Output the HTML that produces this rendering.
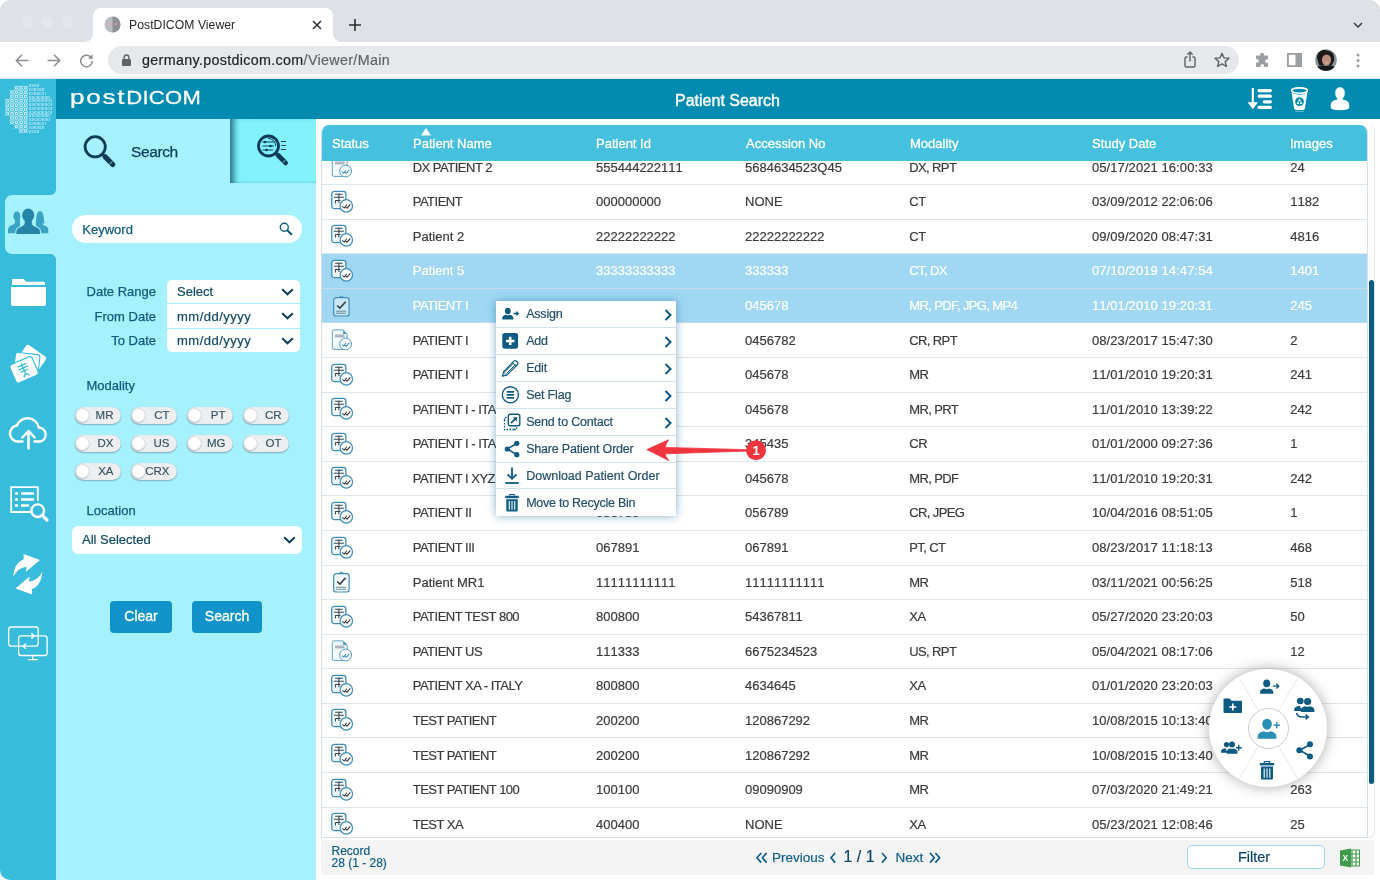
<!DOCTYPE html>
<html lang="en">
<head>
<meta charset="utf-8">
<title>PostDICOM Viewer</title>
<style>
*{box-sizing:border-box;margin:0;padding:0}
html,body{width:1380px;height:880px;overflow:hidden;background:#fff}
body{font-family:"Liberation Sans","DejaVu Sans",sans-serif;font-size:13px;color:#3b3b3b;position:relative}
.win{position:absolute;left:0;top:0;width:1380px;height:880px;border-radius:10px;overflow:hidden;background:#fff;will-change:transform}
.abs{position:absolute}
svg{display:block;overflow:visible}
/* ---------- browser chrome ---------- */
.tabbar{position:absolute;left:0;top:0;width:1380px;height:42px;background:#dee1e6}
.tl{position:absolute;top:16px;width:12px;height:12px;border-radius:50%;background:#e4e6eb}
.tab{position:absolute;left:93px;top:8px;width:240px;height:34px;background:#fff;border-radius:8px 8px 0 0}
.tab:before,.tab:after{content:"";position:absolute;bottom:0;width:8px;height:8px;background:radial-gradient(circle at 0 0,rgba(255,255,255,0) 7.5px,#fff 8px)}
.tab:before{left:-8px}
.tab:after{right:-8px;background:radial-gradient(circle at 100% 0,rgba(255,255,255,0) 7.5px,#fff 8px)}
.tabtitle{position:absolute;left:36px;top:10px;font-size:12.2px;color:#26282b;letter-spacing:.05px;white-space:nowrap}
.toolbar{position:absolute;left:0;top:42px;width:1380px;height:37px;background:#fff;border-bottom:1px solid #e3e5e8}
.url{position:absolute;left:108px;top:4px;width:1131px;height:28px;border-radius:14px;background:#e7e8eb}
.urltext{position:absolute;left:34px;top:6px;font-size:14.3px;color:#1f2124;white-space:nowrap;letter-spacing:.33px;-webkit-text-stroke:.2px #1f2124}
.urltext span{color:#5f6368;-webkit-text-stroke:.2px #5f6368}
/* ---------- app ---------- */
.leftbar{position:absolute;left:0;top:79px;width:56px;height:801px;background:#38bcdc}
.hdr{position:absolute;left:56px;top:79px;width:1324px;height:40px;background:#028bb0}
.hdr .title{position:absolute;left:0;width:1343px;top:12.5px;text-align:center;color:#fff;font-size:16px;white-space:nowrap;-webkit-text-stroke:.4px #fff}
.panel{position:absolute;left:56px;top:119px;width:260px;height:761px;background:#a6f1fe}
.advtab{position:absolute;left:174px;top:0;width:86px;height:64px;background:#82f3fd;box-shadow:inset 8px 0 6px -4px rgba(0,60,90,.7), inset 0 -1px 2px -1px rgba(6,70,100,.2)}
.navsel{position:absolute;left:5px;top:116px;width:51px;height:58.500px;background:#a6f1fe;border-radius:7px 0 0 7px}
.navsel:before,.navsel:after{content:"";position:absolute;right:0;width:5px;height:5px}
.navsel:before{top:-5px;background:radial-gradient(circle at 0 0,rgba(166,241,254,0) 4.5px,#a6f1fe 5px)}
.navsel:after{bottom:-5px;background:radial-gradient(circle at 0 100%,rgba(166,241,254,0) 4.5px,#a6f1fe 5px)}
.kw{position:absolute;left:16px;top:96px;width:230px;height:28px;border-radius:14px;background:#fff}
.lbl{color:#0f5c80;font-size:13px;white-space:nowrap;position:absolute;-webkit-text-stroke:.25px}
.sel{position:absolute;left:111px;width:133px;height:23.4px;background:#fff}
.sel .t,.loc .t{position:absolute;left:10px;top:4px;color:#0f4a68;font-size:13px;white-space:nowrap;-webkit-text-stroke:.2px}
.chev{position:absolute;right:6px;top:8px}
.loc{position:absolute;left:16px;top:407px;width:230px;height:28px;border-radius:6px;background:#fff}
.tg{position:absolute;width:46.5px;height:16.6px;border-radius:9px;background:#eceef0;box-shadow:0 1px 1.5px rgba(60,80,95,.4), inset 0 0 1px rgba(0,0,0,.18)}
.tg i{position:absolute;left:1.2px;top:1.5px;width:13.6px;height:13.6px;border-radius:50%;background:#fff;box-shadow:0 .5px 1.5px rgba(30,50,60,.45)}
.tg b{position:absolute;right:7.6px;top:2.2px;font-weight:normal;font-size:11.5px;color:#38525f;-webkit-text-stroke:.15px;white-space:nowrap}
.btn{position:absolute;top:482px;height:32px;border-radius:4px;background:#1093c9;color:#fff;font-size:14px;text-align:center;line-height:31px;white-space:nowrap;-webkit-text-stroke:.3px #fff}
/* ---------- table ---------- */
.tbl{position:absolute;left:321px;top:125px;width:1047px;height:713px;background:#fff;border-radius:8px 8px 0 0;overflow:hidden;border:1px solid #d5e0e6;border-top:none}
.th{position:absolute;left:0;top:0;width:1046px;height:35.5px;background:#45c1df;z-index:3}
.th span{position:absolute;top:10.5px;color:#fff;font-size:13px;white-space:nowrap;-webkit-text-stroke:.3px #fff}
.row{position:absolute;left:0;width:1045px;height:34.58px;border-bottom:1px solid #dde6ea;background:#fff}
.row.s{background:#a0d8f3;border-bottom-color:#c6dde9;color:#fff}
.row span{-webkit-text-stroke:.2px;position:absolute;top:9.1px;white-space:nowrap;font-size:13px;line-height:15px;transform-origin:0 50%;display:block}
.row svg{position:absolute;left:9px;top:4.6px}
.foot{-webkit-text-stroke:.2px;position:absolute;left:321px;top:839.5px;width:1053px;height:35px;background:#f4f4f5}
.scroll{position:absolute;left:1369px;top:280px;width:5px;height:504px;border-radius:3px;background:#075a80}
.scrolltrack{position:absolute;left:1367px;top:125px;width:8px;height:713px;border-right:1px solid #e4e7ea;border-bottom:1px solid #e4e7ea;border-radius:0 6px 6px 0}
/* ---------- context menu ---------- */
.menu{position:absolute;left:496px;top:301px;width:180px;height:215px;background:#fff;box-shadow:0 0 9px rgba(40,110,160,.55);z-index:10}
.mi{position:absolute;left:0;width:180px;height:27px;border-bottom:1px solid #d3e3ec}
.mi span{position:absolute;left:30.2px;top:6.4px;font-size:12.5px;letter-spacing:-.2px;color:#24506b;-webkit-text-stroke:.2px;white-space:nowrap}
.mi svg.ic{position:absolute;left:5.4px;top:3.3px}
.mi svg.ar{position:absolute;left:167.500px;top:8px}
/* ---------- radial ---------- */
.radial{position:absolute;left:1207.5px;top:667.7px;width:121px;height:121px;z-index:12}
.radial .disc{position:absolute;left:1.5px;top:1.5px;width:118px;height:118px;border-radius:50%;background:#fff;box-shadow:0 0 13px 1.5px rgba(0,0,0,.27)}
.radial .c{position:absolute;left:40px;top:40px;width:41px;height:41px;border-radius:50%;background:#fff;border:1px solid #c9cdd0}
</style>
</head>

<body><div class="win">

<div class="tabbar">
  <div class="tl" style="left:21px"></div><div class="tl" style="left:41px"></div><div class="tl" style="left:61px"></div>
  <div class="tab">
    <svg class="abs" style="left:11px;top:8px" width="17" height="17" viewBox="0 0 17 17"><circle cx="8.5" cy="8.5" r="8" fill="#b9bcc0"/><path d="M8.5 .5a8 8 0 0 1 0 16Z" fill="#8d9196"/><circle cx="5.5" cy="8" r="1.3" fill="#e9a9a0"/><circle cx="11.5" cy="8" r="1.3" fill="#e0978c"/></svg>
    <div class="tabtitle">PostDICOM Viewer</div>
    <svg class="abs" style="left:219px;top:12px" width="10" height="10" viewBox="0 0 10 10"><path d="M1 1L9 9M9 1L1 9" stroke="#2c2e31" stroke-width="1.5" fill="none"/></svg>
  </div>
  <svg class="abs" style="left:349px;top:19px" width="12" height="12" viewBox="0 0 12 12"><path d="M6 0V12M0 6H12" stroke="#2c2e31" stroke-width="1.6" fill="none"/></svg>
  <svg class="abs" style="left:1353px;top:22px" width="10" height="7" viewBox="0 0 10 7"><path d="M1 1L5 5L9 1" stroke="#3a3c40" stroke-width="1.5" fill="none"/></svg>
</div>
<div class="toolbar">
  <div class="url">
    <svg class="abs" style="left:14px;top:8px" width="9" height="12" viewBox="0 0 9 12"><rect x="0" y="5" width="9" height="7" rx="1" fill="#5f6368"/><path d="M2.2 5.5V3.3a2.3 2.3 0 0 1 4.6 0V5.5" stroke="#5f6368" stroke-width="1.4" fill="none"/></svg>
    <div class="urltext">germany.postdicom.com<span>/Viewer/Main</span></div>
  </div>
<svg class="abs" style="left:15px;top:12px" width="14" height="13" viewBox="0 0 14 13"><path d="M7 .8L1.3 6.5L7 12.2M1.3 6.5H13.5" stroke="#8a8d91" stroke-width="1.5" fill="none"/></svg>
<svg class="abs" style="left:47px;top:12px" width="14" height="13" viewBox="0 0 14 13"><path d="M7 .8L12.7 6.5L7 12.2M12.7 6.5H.5" stroke="#8a8d91" stroke-width="1.5" fill="none"/></svg>
<svg class="abs" style="left:79px;top:11px" width="15" height="15" viewBox="0 0 15 15"><path d="M12.6 5.2A5.8 5.8 0 1 0 13.3 8" stroke="#8a8d91" stroke-width="1.5" fill="none"/><path d="M13.6 1.2V5.8H9Z" fill="#8a8d91"/></svg>
<svg class="abs" style="left:1184px;top:9px" width="12" height="17" viewBox="0 0 12 17"><path d="M3.5 6H2.2A1.2 1.2 0 0 0 1 7.2V14.8A1.2 1.2 0 0 0 2.2 16H9.8A1.2 1.2 0 0 0 11 14.8V7.2A1.2 1.2 0 0 0 9.8 6H8.5M6 10.5V1.2M3.3 3.8L6 1.1L8.7 3.8" stroke="#5f6368" stroke-width="1.4" fill="none"/></svg>
<svg class="abs" style="left:1214px;top:10px" width="16" height="16" viewBox="0 0 16 16"><path d="M8 1.3L10 5.9L15 6.3L11.2 9.6L12.4 14.5L8 11.9L3.6 14.5L4.8 9.6L1 6.3L6 5.9Z" stroke="#5f6368" stroke-width="1.4" fill="none" stroke-linejoin="round"/></svg>
<svg class="abs" style="left:1254px;top:10px" width="16" height="16" viewBox="0 0 16 16"><path d="M6.2 2.6a1.9 1.9 0 0 1 3.8 0V3.6H13.2A.8.8 0 0 1 14 4.4V7.2H13a1.9 1.9 0 0 0 0 3.8H14V14.2A.8.8 0 0 1 13.2 15H10.2V14a1.9 1.9 0 0 0-3.8 0V15H2.8A.8.8 0 0 1 2 14.2V10.8H2.8a1.9 1.9 0 0 0 0-3.8H2V4.4A.8.8 0 0 1 2.8 3.6H6.2Z" fill="#9a9da1"/></svg>
<svg class="abs" style="left:1287px;top:11px" width="15" height="14" viewBox="0 0 15 14"><rect x=".9" y=".9" width="13.2" height="12.2" stroke="#9a9da1" stroke-width="1.8" fill="none"/><rect x="8.5" y="1" width="5.5" height="12" fill="#9a9da1"/></svg>
<svg class="abs" style="left:1315px;top:7px" width="22" height="22" viewBox="0 0 22 22"><defs><clipPath id="av"><circle cx="11" cy="11" r="10.8"/></clipPath></defs><g clip-path="url(#av)"><rect width="22" height="22" fill="#8a969b"/><path d="M2 9C2 2 8 0 12 1.5C18 2 20 7 19 12L17 16H4Z" fill="#1d1a1a"/><ellipse cx="11.5" cy="11" rx="4.6" ry="5.6" fill="#b98f7c"/><path d="M-1 23C1 16 7 15.5 11 17C15 15.5 21 16 23 23Z" fill="#16181b"/><path d="M8.5 13.3Q11.5 15.6 14.3 13.3Q11.5 14.4 8.5 13.3Z" fill="#f2e6e0"/></g></svg>
<svg class="abs" style="left:1356px;top:11px" width="4" height="15" viewBox="0 0 4 15"><circle cx="2" cy="2" r="1.5" fill="#9a9da1"/><circle cx="2" cy="7.5" r="1.5" fill="#9a9da1"/><circle cx="2" cy="13" r="1.5" fill="#9a9da1"/></svg>

</div>

<div class="leftbar"><svg class="abs" style="left:0;top:0" width="56" height="60" viewBox="0 0 56 60"><path d="M23.40 6.75L28.00 11.05M23.40 11.05L28.00 6.75" stroke="#fff" stroke-width=".7" opacity=".7"/><rect x="24.45" y="7.65" width="2.400" height="2.400" rx=".7" fill="#38bcdc" stroke="#fff" stroke-width=".8"/><path d="M18.82 6.75L23.42 11.05M18.82 11.05L23.42 6.75" stroke="#fff" stroke-width=".7" opacity=".7"/><rect x="19.87" y="7.65" width="2.400" height="2.400" rx=".7" fill="#38bcdc" stroke="#fff" stroke-width=".8"/><path d="M14.24 6.75L18.84 11.05M14.24 11.05L18.84 6.75" stroke="#fff" stroke-width=".7" opacity=".7"/><rect x="15.29" y="7.65" width="2.400" height="2.400" rx=".7" fill="#38bcdc" stroke="#fff" stroke-width=".8"/><path d="M23.40 11.05L28.00 15.35M23.40 15.35L28.00 11.05" stroke="#fff" stroke-width=".7" opacity=".7"/><rect x="24.45" y="11.95" width="2.400" height="2.400" rx=".7" fill="#38bcdc" stroke="#fff" stroke-width=".8"/><path d="M18.82 11.05L23.42 15.35M18.82 15.35L23.42 11.05" stroke="#fff" stroke-width=".7" opacity=".7"/><rect x="19.87" y="11.95" width="2.400" height="2.400" rx=".7" fill="#38bcdc" stroke="#fff" stroke-width=".8"/><path d="M14.24 11.05L18.84 15.35M14.24 15.35L18.84 11.05" stroke="#fff" stroke-width=".7" opacity=".7"/><rect x="15.29" y="11.95" width="2.400" height="2.400" rx=".7" fill="#38bcdc" stroke="#fff" stroke-width=".8"/><path d="M9.66 11.05L14.26 15.35M9.66 15.35L14.26 11.05" stroke="#fff" stroke-width=".7" opacity=".7"/><rect x="10.71" y="11.95" width="2.400" height="2.400" rx=".7" fill="#38bcdc" stroke="#fff" stroke-width=".8"/><path d="M23.40 15.35L28.00 19.65M23.40 19.65L28.00 15.35" stroke="#fff" stroke-width=".7" opacity=".7"/><rect x="24.45" y="16.25" width="2.400" height="2.400" rx=".7" fill="#38bcdc" stroke="#fff" stroke-width=".8"/><path d="M18.82 15.35L23.42 19.65M18.82 19.65L23.42 15.35" stroke="#fff" stroke-width=".7" opacity=".7"/><rect x="19.87" y="16.25" width="2.400" height="2.400" rx=".7" fill="#38bcdc" stroke="#fff" stroke-width=".8"/><path d="M14.24 15.35L18.84 19.65M14.24 19.65L18.84 15.35" stroke="#fff" stroke-width=".7" opacity=".7"/><rect x="15.29" y="16.25" width="2.400" height="2.400" rx=".7" fill="#38bcdc" stroke="#fff" stroke-width=".8"/><path d="M9.66 15.35L14.26 19.65M9.66 19.65L14.26 15.35" stroke="#fff" stroke-width=".7" opacity=".7"/><rect x="10.71" y="16.25" width="2.400" height="2.400" rx=".7" fill="#38bcdc" stroke="#fff" stroke-width=".8"/><path d="M23.40 19.65L28.00 23.95M23.40 23.95L28.00 19.65" stroke="#fff" stroke-width=".7" opacity=".7"/><rect x="24.45" y="20.55" width="2.400" height="2.400" rx=".7" fill="#38bcdc" stroke="#fff" stroke-width=".8"/><path d="M18.82 19.65L23.42 23.95M18.82 23.95L23.42 19.65" stroke="#fff" stroke-width=".7" opacity=".7"/><rect x="19.87" y="20.55" width="2.400" height="2.400" rx=".7" fill="#38bcdc" stroke="#fff" stroke-width=".8"/><path d="M14.24 19.65L18.84 23.95M14.24 23.95L18.84 19.65" stroke="#fff" stroke-width=".7" opacity=".7"/><rect x="15.29" y="20.55" width="2.400" height="2.400" rx=".7" fill="#38bcdc" stroke="#fff" stroke-width=".8"/><path d="M9.66 19.65L14.26 23.95M9.66 23.95L14.26 19.65" stroke="#fff" stroke-width=".7" opacity=".7"/><rect x="10.71" y="20.55" width="2.400" height="2.400" rx=".7" fill="#38bcdc" stroke="#fff" stroke-width=".8"/><path d="M5.08 19.65L9.68 23.95M5.08 23.95L9.68 19.65" stroke="#fff" stroke-width=".7" opacity=".7"/><rect x="6.13" y="20.55" width="2.400" height="2.400" rx=".7" fill="#38bcdc" stroke="#fff" stroke-width=".8"/><path d="M23.40 23.95L28.00 28.25M23.40 28.25L28.00 23.95" stroke="#fff" stroke-width=".7" opacity=".7"/><rect x="24.45" y="24.85" width="2.400" height="2.400" rx=".7" fill="#38bcdc" stroke="#fff" stroke-width=".8"/><path d="M18.82 23.95L23.42 28.25M18.82 28.25L23.42 23.95" stroke="#fff" stroke-width=".7" opacity=".7"/><rect x="19.87" y="24.85" width="2.400" height="2.400" rx=".7" fill="#38bcdc" stroke="#fff" stroke-width=".8"/><path d="M14.24 23.95L18.84 28.25M14.24 28.25L18.84 23.95" stroke="#fff" stroke-width=".7" opacity=".7"/><rect x="15.29" y="24.85" width="2.400" height="2.400" rx=".7" fill="#38bcdc" stroke="#fff" stroke-width=".8"/><path d="M9.66 23.95L14.26 28.25M9.66 28.25L14.26 23.95" stroke="#fff" stroke-width=".7" opacity=".7"/><rect x="10.71" y="24.85" width="2.400" height="2.400" rx=".7" fill="#38bcdc" stroke="#fff" stroke-width=".8"/><path d="M5.08 23.95L9.68 28.25M5.08 28.25L9.68 23.95" stroke="#fff" stroke-width=".7" opacity=".7"/><rect x="6.13" y="24.85" width="2.400" height="2.400" rx=".7" fill="#38bcdc" stroke="#fff" stroke-width=".8"/><path d="M23.40 28.25L28.00 32.55M23.40 32.55L28.00 28.25" stroke="#fff" stroke-width=".7" opacity=".7"/><rect x="24.45" y="29.15" width="2.400" height="2.400" rx=".7" fill="#38bcdc" stroke="#fff" stroke-width=".8"/><path d="M18.82 28.25L23.42 32.55M18.82 32.55L23.42 28.25" stroke="#fff" stroke-width=".7" opacity=".7"/><rect x="19.87" y="29.15" width="2.400" height="2.400" rx=".7" fill="#38bcdc" stroke="#fff" stroke-width=".8"/><path d="M14.24 28.25L18.84 32.55M14.24 32.55L18.84 28.25" stroke="#fff" stroke-width=".7" opacity=".7"/><rect x="15.29" y="29.15" width="2.400" height="2.400" rx=".7" fill="#38bcdc" stroke="#fff" stroke-width=".8"/><path d="M9.66 28.25L14.26 32.55M9.66 32.55L14.26 28.25" stroke="#fff" stroke-width=".7" opacity=".7"/><rect x="10.71" y="29.15" width="2.400" height="2.400" rx=".7" fill="#38bcdc" stroke="#fff" stroke-width=".8"/><path d="M5.08 28.25L9.68 32.55M5.08 32.55L9.68 28.25" stroke="#fff" stroke-width=".7" opacity=".7"/><rect x="6.13" y="29.15" width="2.400" height="2.400" rx=".7" fill="#38bcdc" stroke="#fff" stroke-width=".8"/><path d="M23.40 32.55L28.00 36.85M23.40 36.85L28.00 32.55" stroke="#fff" stroke-width=".7" opacity=".7"/><rect x="24.45" y="33.45" width="2.400" height="2.400" rx=".7" fill="#38bcdc" stroke="#fff" stroke-width=".8"/><path d="M18.82 32.55L23.42 36.85M18.82 36.85L23.42 32.55" stroke="#fff" stroke-width=".7" opacity=".7"/><rect x="19.87" y="33.45" width="2.400" height="2.400" rx=".7" fill="#38bcdc" stroke="#fff" stroke-width=".8"/><path d="M14.24 32.55L18.84 36.85M14.24 36.85L18.84 32.55" stroke="#fff" stroke-width=".7" opacity=".7"/><rect x="15.29" y="33.45" width="2.400" height="2.400" rx=".7" fill="#38bcdc" stroke="#fff" stroke-width=".8"/><path d="M9.66 32.55L14.26 36.85M9.66 36.85L14.26 32.55" stroke="#fff" stroke-width=".7" opacity=".7"/><rect x="10.71" y="33.45" width="2.400" height="2.400" rx=".7" fill="#38bcdc" stroke="#fff" stroke-width=".8"/><path d="M5.08 32.55L9.68 36.85M5.08 36.85L9.68 32.55" stroke="#fff" stroke-width=".7" opacity=".7"/><rect x="6.13" y="33.45" width="2.400" height="2.400" rx=".7" fill="#38bcdc" stroke="#fff" stroke-width=".8"/><path d="M23.40 36.85L28.00 41.15M23.40 41.15L28.00 36.85" stroke="#fff" stroke-width=".7" opacity=".7"/><rect x="24.45" y="37.75" width="2.400" height="2.400" rx=".7" fill="#38bcdc" stroke="#fff" stroke-width=".8"/><path d="M18.82 36.85L23.42 41.15M18.82 41.15L23.42 36.85" stroke="#fff" stroke-width=".7" opacity=".7"/><rect x="19.87" y="37.75" width="2.400" height="2.400" rx=".7" fill="#38bcdc" stroke="#fff" stroke-width=".8"/><path d="M14.24 36.85L18.84 41.15M14.24 41.15L18.84 36.85" stroke="#fff" stroke-width=".7" opacity=".7"/><rect x="15.29" y="37.75" width="2.400" height="2.400" rx=".7" fill="#38bcdc" stroke="#fff" stroke-width=".8"/><path d="M9.66 36.85L14.26 41.15M9.66 41.15L14.26 36.85" stroke="#fff" stroke-width=".7" opacity=".7"/><rect x="10.71" y="37.75" width="2.400" height="2.400" rx=".7" fill="#38bcdc" stroke="#fff" stroke-width=".8"/><path d="M23.40 41.15L28.00 45.45M23.40 45.45L28.00 41.15" stroke="#fff" stroke-width=".7" opacity=".7"/><rect x="24.45" y="42.05" width="2.400" height="2.400" rx=".7" fill="#38bcdc" stroke="#fff" stroke-width=".8"/><path d="M18.82 41.15L23.42 45.45M18.82 45.45L23.42 41.15" stroke="#fff" stroke-width=".7" opacity=".7"/><rect x="19.87" y="42.05" width="2.400" height="2.400" rx=".7" fill="#38bcdc" stroke="#fff" stroke-width=".8"/><path d="M14.24 41.15L18.84 45.45M14.24 45.45L18.84 41.15" stroke="#fff" stroke-width=".7" opacity=".7"/><rect x="15.29" y="42.05" width="2.400" height="2.400" rx=".7" fill="#38bcdc" stroke="#fff" stroke-width=".8"/><path d="M9.66 41.15L14.26 45.45M9.66 45.45L14.26 41.15" stroke="#fff" stroke-width=".7" opacity=".7"/><rect x="10.71" y="42.05" width="2.400" height="2.400" rx=".7" fill="#38bcdc" stroke="#fff" stroke-width=".8"/><path d="M23.40 45.45L28.00 49.75M23.40 49.75L28.00 45.45" stroke="#fff" stroke-width=".7" opacity=".7"/><rect x="24.45" y="46.35" width="2.400" height="2.400" rx=".7" fill="#38bcdc" stroke="#fff" stroke-width=".8"/><path d="M18.82 45.45L23.42 49.75M18.82 49.75L23.42 45.45" stroke="#fff" stroke-width=".7" opacity=".7"/><rect x="19.87" y="46.35" width="2.400" height="2.400" rx=".7" fill="#38bcdc" stroke="#fff" stroke-width=".8"/><path d="M14.24 45.45L18.84 49.75M14.24 49.75L18.84 45.45" stroke="#fff" stroke-width=".7" opacity=".7"/><rect x="15.29" y="46.35" width="2.400" height="2.400" rx=".7" fill="#38bcdc" stroke="#fff" stroke-width=".8"/><path d="M23.40 49.75L28.00 54.05M23.40 54.05L28.00 49.75" stroke="#fff" stroke-width=".7" opacity=".7"/><rect x="24.45" y="50.65" width="2.400" height="2.400" rx=".7" fill="#38bcdc" stroke="#fff" stroke-width=".8"/><path d="M18.82 49.75L23.42 54.05M18.82 54.05L23.42 49.75" stroke="#fff" stroke-width=".7" opacity=".7"/><rect x="19.87" y="50.65" width="2.400" height="2.400" rx=".7" fill="#38bcdc" stroke="#fff" stroke-width=".8"/><text x="29.200" y="8.25" font-family="Liberation Sans, sans-serif" font-size="3.500" fill="#fff" opacity=".95" textLength="9.8" lengthAdjust="spacingAndGlyphs">IOIOI</text><text x="29.200" y="12.03" font-family="Liberation Sans, sans-serif" font-size="3.500" fill="#fff" opacity=".95" textLength="15.2" lengthAdjust="spacingAndGlyphs">IOIOIOI</text><text x="29.200" y="15.81" font-family="Liberation Sans, sans-serif" font-size="3.500" fill="#fff" opacity=".95" textLength="16.9" lengthAdjust="spacingAndGlyphs">IOIOIOI I</text><text x="29.200" y="19.59" font-family="Liberation Sans, sans-serif" font-size="3.500" fill="#fff" opacity=".95" textLength="20.8" lengthAdjust="spacingAndGlyphs">IOIOIOIOIO</text><text x="29.200" y="23.37" font-family="Liberation Sans, sans-serif" font-size="3.500" fill="#fff" opacity=".95" textLength="22.6" lengthAdjust="spacingAndGlyphs">IOIOIOIOIOI</text><text x="29.200" y="27.15" font-family="Liberation Sans, sans-serif" font-size="3.500" fill="#fff" opacity=".95" textLength="22.6" lengthAdjust="spacingAndGlyphs">IOIOIOIOIOI</text><text x="29.200" y="30.93" font-family="Liberation Sans, sans-serif" font-size="3.500" fill="#fff" opacity=".95" textLength="22.6" lengthAdjust="spacingAndGlyphs">IOIOIOIOIOI</text><text x="29.200" y="34.71" font-family="Liberation Sans, sans-serif" font-size="3.500" fill="#fff" opacity=".95" textLength="22.6" lengthAdjust="spacingAndGlyphs">IOIOIOIOIOI</text><text x="29.200" y="38.49" font-family="Liberation Sans, sans-serif" font-size="3.500" fill="#fff" opacity=".95" textLength="20.8" lengthAdjust="spacingAndGlyphs">IOIOIOIOIO</text><text x="29.200" y="42.27" font-family="Liberation Sans, sans-serif" font-size="3.500" fill="#fff" opacity=".95" textLength="20.8" lengthAdjust="spacingAndGlyphs">IOIOIOIOIO</text><text x="29.200" y="46.05" font-family="Liberation Sans, sans-serif" font-size="3.500" fill="#fff" opacity=".95" textLength="16.9" lengthAdjust="spacingAndGlyphs">IOIOIOI I</text><text x="29.200" y="49.83" font-family="Liberation Sans, sans-serif" font-size="3.500" fill="#fff" opacity=".95" textLength="15.2" lengthAdjust="spacingAndGlyphs">IOIOIOI</text><text x="29.200" y="53.61" font-family="Liberation Sans, sans-serif" font-size="3.500" fill="#fff" opacity=".95" textLength="9.8" lengthAdjust="spacingAndGlyphs">IOIOI</text></svg>
<div class="navsel"></div>
<svg class="abs" style="left:0;top:121px" width="56" height="40" viewBox="0 200 56 40">
 <g fill="#38a3c4"><ellipse cx="16.900" cy="216.300" rx="3.500" ry="4.900"/><path d="M15 219.500V222.500C15 224 13 224.800 11 225.600C9 226.500 8 228 8 230.500V233.200H20V219.500Z"/>
 <path d="M35.600 223.500C36.600 219 35.800 211.200 40 211.200C44.200 211.200 43.400 219 44.600 223.500Z"/><path d="M41.500 222C41.500 224 43 225 45 225.800C47.500 226.800 48.300 228 48.300 230.500V233.200H36V222Z"/></g>
 <g fill="#2585a8" stroke="#a6f1fe" stroke-width="1.100"><path d="M24.300 219.500V223C24.300 225 22 226 19.500 227C17 228 15.800 229.500 15.800 232V234.500H40.600V232C40.600 229.500 39.400 228 36.900 227C34.400 226 32.100 225 32.100 223V219.500Z"/></g>
 <ellipse cx="28.200" cy="215.300" rx="6" ry="6.700" fill="#2585a8"/>
 <rect x="24.800" y="218" width="6.800" height="6" fill="#2585a8"/>
</svg>
<svg class="abs" style="left:11px;top:200px" width="35" height="27" viewBox="0 0 35 27"><path d="M1.500 0H12.500L15 2.700H32.500A1.500 1.500 0 0 1 34 4.200V6H1V1.500A1.500 1.500 0 0 1 1.500 0Z" fill="#fff"/><path d="M.5 8H34.500A.5 .5 0 0 1 35 8.500V25A2 2 0 0 1 33 27H2A2 2 0 0 1 0 25V8.500A.5 .5 0 0 1 .5 8Z" fill="#fff"/></svg>
<svg class="abs" style="left:0;top:251px" width="56" height="60" viewBox="0 330 56 60">
 <g transform="rotate(35 31.500 359.100)"><rect x="19.400" y="349.100" width="24.200" height="20" rx="2.400" fill="#fff"/></g>
 <g transform="rotate(6.300 26.800 363.500)"><rect x="14.500" y="353.500" width="24.600" height="20" rx="2.600" fill="#fff" stroke="#38bcdc" stroke-width="1.100"/></g>
 <g transform="rotate(-23.800 24.050 369.850)"><rect x="11.900" y="359.800" width="24.300" height="20.100" rx="2.800" fill="#fff" stroke="#38bcdc" stroke-width="1.200"/>
 <path d="M24 362.800V374.500M19.200 364.800H28.800M18.800 367.800H29.200M19.800 370.800H28.200M21.200 377.200Q21.400 374.500 24 374.500Q26.600 374.500 26.800 377.200" stroke="#38bcdc" stroke-width="1.250" fill="none"/></g>
</svg>
<svg class="abs" style="left:8px;top:337px" width="41" height="36" viewBox="0 0 41 36"><path d="M14.500 25.500H9.500A8 8 0 0 1 8.800 9.600A11.500 11.500 0 0 1 30.800 11.400A7.200 7.200 0 0 1 32.500 25.500H26.500" stroke="#fff" stroke-width="2.500" fill="none" stroke-linecap="round"/><path d="M20.500 32.500V16M14.300 21.500L20.500 15L26.700 21.500" stroke="#fff" stroke-width="2.500" fill="none" stroke-linecap="round" stroke-linejoin="round"/></svg>
<svg class="abs" style="left:10px;top:407px" width="39" height="36" viewBox="0 0 39 36"><path d="M22 26H1.200V1.200H27.800V15" stroke="#fff" stroke-width="1.800" fill="none"/><path d="M5 7.500H8M11 7.500H24M5 13.500H8M11 13.500H24M5 19.500H8M11 19.500H19" stroke="#fff" stroke-width="2.400" fill="none"/><circle cx="27.700" cy="24.700" r="6.300" stroke="#fff" stroke-width="2.400" fill="none"/><path d="M32.300 29.300L37 34" stroke="#fff" stroke-width="3.200" stroke-linecap="round"/></svg>
<svg class="abs" style="left:0;top:461px" width="56" height="60" viewBox="0 540 56 60"><path id="rfa" d="M13.300 577C13.500 568 18 561 23.800 559.300L23.500 554L40 560L26 571.800L26.600 566.800C21 567.500 16 571 13.300 577Z" fill="#fff"/><path d="M13.300 577C13.500 568 18 561 23.800 559.300L23.500 554L40 560L26 571.800L26.600 566.800C21 567.500 16 571 13.300 577Z" fill="#fff" transform="rotate(180 27.800 574.200)"/></svg>
<svg class="abs" style="left:0;top:541px" width="56" height="50" viewBox="0 620 56 50"><rect x="8.700" y="627" width="29.500" height="19.200" rx="2.600" stroke="#fff" stroke-width="1.300" fill="none"/><rect x="18.600" y="635.900" width="28.500" height="19.600" rx="2.600" stroke="#fff" stroke-width="1.300" fill="none"/><path d="M32.800 655.500V659.300M28 659.700H38" stroke="#fff" stroke-width="1.300"/><path d="M31.300 633.300L34.300 635.900L31.300 638.500M26 643.600L23 646.200L26 648.800" stroke="#fff" stroke-width="1.400" fill="none"/></svg>
</div>
<div class="hdr"><svg class="abs" style="left:14px;top:8px" width="134" height="24" viewBox="0 0 134 24"><g font-family="Liberation Sans, DejaVu Sans, sans-serif" fill="#fff"><text x="0" y="16.800" font-size="19.400" transform="scale(1.340 1)" textLength="40.600" lengthAdjust="spacing" stroke="#fff" stroke-width=".25">post</text><text x="46.400" y="16.800" font-size="18.200" transform="scale(1.210 1)" textLength="61.800" lengthAdjust="spacing" stroke="#fff" stroke-width=".25">DICOM</text></g></svg><div class="title">Patient Search</div>
<svg class="abs" style="left:1191px;top:9px" width="26" height="22" viewBox="0 0 26 22"><path d="M5.800 0V17" stroke="#fff" stroke-width="2.200"/><path d="M.6 14.200H11L5.800 21.200Z" fill="#fff"/><path d="M12 2.600H23.300M12.300 8.200H23.300M17.300 13.800H23.300M12 19.300H23.300" stroke="#fff" stroke-width="3.300" stroke-linecap="round"/></svg>
<svg class="abs" style="left:1234px;top:8px" width="19" height="25" viewBox="0 0 19 25"><ellipse cx="9.500" cy="3.600" rx="8" ry="2.700" stroke="#fff" stroke-width="1.600" fill="none"/><path d="M1.700 5.800L4.100 21.400Q4.300 23 9.500 23Q14.700 23 14.900 21.400L17.300 5.800Q9.500 9.600 1.700 5.800Z" fill="#fff"/><circle cx="9.500" cy="14.600" r="4.400" fill="#028bb0"/><path d="M9.500 11.600L11 14.200H8ZM6.600 16.800L8.100 14.300L9.300 16.900ZM12.400 16.800L9.800 16.900L11 14.300Z" fill="#fff"/><path d="M5 24.200Q9.500 25 14 24.200" stroke="#fff" stroke-width=".7" opacity=".6" fill="none"/></svg>
<svg class="abs" style="left:1274px;top:8px" width="20" height="24" viewBox="0 0 20 24"><rect x="5.300" y=".3" width="9.400" height="11.600" rx="4.600" fill="#fff"/><path d="M7.300 10.500H12.700V12.600C15.500 13 19.300 14.400 19.300 18V20.300Q19.300 23.200 10 23.200Q.7 23.200 .7 20.300V18C.7 14.400 4.500 13 7.300 12.600Z" fill="#fff"/></svg>
</div>
<div class="panel">
<div class="advtab"><svg class="abs" style="left:26.300px;top:14.200px" width="34" height="36" viewBox="0 0 34 36"><circle cx="12.500" cy="13" r="10" stroke="#0c3c58" stroke-width="2.800" fill="none"/><path d="M12 5.500A7.500 7.500 0 0 1 19.800 13" stroke="#0c3c58" stroke-width="1" fill="none"/><path d="M6.500 9H18M6.500 13H18M6.500 17H17" stroke="#0c3c58" stroke-width="1.100"/><circle cx="9" cy="9" r="1.300" fill="#0c3c58"/><circle cx="14.500" cy="13" r="1.300" fill="#0c3c58"/><circle cx="10.500" cy="17" r="1.300" fill="#0c3c58"/><path d="M25 8.500H30M25.500 12.500H30M25 16.500H30" stroke="#0c3c58" stroke-width="1.100"/><path d="M19.300 19.800L22 22.500" stroke="#0c3c58" stroke-width="2"/><path d="M22 22.300L29.600 29.900" stroke="#0c3c58" stroke-width="4.800" stroke-linecap="round"/><path d="M29.400 27L26.700 29.800" stroke="#82f3fd" stroke-width=".8"/></svg></div>
<svg class="abs" style="left:26px;top:15px" width="36" height="36" viewBox="0 0 36 36"><circle cx="13.200" cy="12.800" r="10.100" stroke="#0c3c58" stroke-width="2.800" fill="none"/><path d="M20.300 19.900L23 22.600" stroke="#0c3c58" stroke-width="2.200"/><path d="M23 22.700L30.800 30.500" stroke="#0c3c58" stroke-width="5.200" stroke-linecap="round"/><path d="M30.400 27.400L27.600 30.300" stroke="#a6f1fe" stroke-width=".8"/></svg>
<div class="lbl" style="left:75px;top:24px;font-size:15.5px;letter-spacing:-.4px;color:#0c3c58">Search</div>
<div class="kw"><div class="lbl" style="left:10.3px;top:6.800px">Keyword</div><svg class="abs" style="left:207px;top:7px" width="14" height="14" viewBox="0 0 14 14"><circle cx="5.300" cy="5.300" r="4" stroke="#0f5c80" stroke-width="1.400" fill="none"/><path d="M8.500 8.500L12.300 12.300" stroke="#0f5c80" stroke-width="2.200" stroke-linecap="round"/></svg></div>
<div class="lbl" style="right:160px;top:165.0px">Date Range</div>
<div class="sel" style="top:161.0px;border-radius:5px 5px 0 0"><div class="t" style="top:4.0px">Select</div><svg class="chev" width="13" height="8" viewBox="0 0 13 8"><path d="M1.2 1.2L6.5 6.3L11.8 1.2" stroke="#0a3f5c" stroke-width="2" fill="none"/></svg></div>
<div class="lbl" style="right:160px;top:190.1px">From Date</div>
<div class="sel" style="top:185.3px;border-radius:0"><div class="t" style="top:4.8px;letter-spacing:.5px">mm/dd/yyyy</div><svg class="chev" width="13" height="8" viewBox="0 0 13 8"><path d="M1.2 1.2L6.5 6.3L11.8 1.2" stroke="#0a3f5c" stroke-width="2" fill="none"/></svg></div>
<div class="lbl" style="right:160px;top:214.1px">To Date</div>
<div class="sel" style="top:209.6px;border-radius:0 0 5px 5px"><div class="t" style="top:4.5px;letter-spacing:.5px">mm/dd/yyyy</div><svg class="chev" width="13" height="8" viewBox="0 0 13 8"><path d="M1.2 1.2L6.5 6.3L11.8 1.2" stroke="#0a3f5c" stroke-width="2" fill="none"/></svg></div>
<div class="lbl" style="left:30.5px;top:258.600px">Modality</div>
<div class="tg" style="left:18.6px;top:288.1px"><i></i><b>MR</b></div>
<div class="tg" style="left:74.6px;top:288.1px"><i></i><b>CT</b></div>
<div class="tg" style="left:130.6px;top:288.1px"><i></i><b>PT</b></div>
<div class="tg" style="left:186.6px;top:288.1px"><i></i><b>CR</b></div>
<div class="tg" style="left:18.6px;top:316.1px"><i></i><b>DX</b></div>
<div class="tg" style="left:74.6px;top:316.1px"><i></i><b>US</b></div>
<div class="tg" style="left:130.6px;top:316.1px"><i></i><b>MG</b></div>
<div class="tg" style="left:186.6px;top:316.1px"><i></i><b>OT</b></div>
<div class="tg" style="left:18.6px;top:344.1px"><i></i><b>XA</b></div>
<div class="tg" style="left:74.6px;top:344.1px"><i></i><b>CRX</b></div>
<div class="lbl" style="left:30.5px;top:383.800px">Location</div>
<div class="loc"><div class="t" style="top:6px">All Selected</div><svg class="chev" style="top:10px" width="13" height="8" viewBox="0 0 13 8"><path d="M1.2 1.2L6.5 6.3L11.8 1.2" stroke="#0a3f5c" stroke-width="2" fill="none"/></svg></div>
<div class="btn" style="left:54px;width:62px">Clear</div><div class="btn" style="left:136px;width:70px">Search</div>
</div>
<div class="tbl">
<div class="th"><span style="left:10px">Status</span><span style="left:91px">Patient Name</span><span style="left:274px">Patient Id</span><span style="left:424px">Accession No</span><span style="left:588px">Modality</span><span style="left:770px">Study Date</span><span style="left:968px">Images</span><svg class="abs" style="left:99.400px;top:3.400px" width="10" height="8" viewBox="0 0 10 8"><path d="M0 7.600L5 0L10 7.600Z" fill="#fff"/></svg></div>
<div class="row" style="top:25.60px"><svg width="26" height="26" viewBox="0 0 26 26"><path d="M2.800 1.900H12.100L16.100 6V19.900A1.500 1.500 0 0 1 14.600 21.400H2.800A1.500 1.500 0 0 1 1.300 19.900V3.400A1.500 1.500 0 0 1 2.800 1.900Z" fill="#f6fbfd" stroke="#5aa3c6" stroke-width="1"/><path d="M12.100 1.900V6H16.100Z" fill="#4a9cc2"/><path d="M4 7.100H13.500M4 8.800H13.500" stroke="#8a949b" stroke-width="1" fill="none"/><circle cx="14.600" cy="16" r="5.900" fill="#fff" stroke="#4a9cc2" stroke-width="1"/><path d="M10.800 16.600L12.700 18.300L15 15.100M13.800 17L15.400 18.300L18.400 14.600" stroke="#3f8fb8" stroke-width="1.100" fill="none"/></svg><span style="left:90.7px;letter-spacing:-0.50px">DX PATIENT 2</span><span style="left:274.0px;letter-spacing:0.00px;font-kerning:none">555444222111</span><span style="left:423.0px;letter-spacing:0.00px;font-kerning:none">5684634523Q45</span><span style="left:587.3px;letter-spacing:-0.62px">DX, RPT</span><span style="left:770.0px;letter-spacing:0.08px;font-kerning:none">05/17/2021 16:00:33</span><span style="left:968.2px;letter-spacing:0.00px;font-kerning:none">24</span></div>
<div class="row" style="top:60.18px"><svg width="26" height="26" viewBox="0 0 26 26"><rect x=".75" y="1.350" width="14.100" height="17.300" rx="2.600" fill="#f4fafd" stroke="#3d8dba" stroke-width="1.300"/><path d="M7.900 3.400V13.200M4.100 4.300H11.700M2.900 7.300H12.900M4.100 10.500H9.500M4.400 10.500V13.400" stroke="#39444d" stroke-width="1.050" fill="none"/><circle cx="15.300" cy="15.900" r="6.200" fill="#fff" stroke="#3d8dba" stroke-width="1.200"/><path d="M11.300 16.400L13.200 18.100L15.700 14.800M14.500 16.900L16.100 18.200L19.300 14.400" stroke="#333d45" stroke-width="1.050" fill="none"/></svg><span style="left:90.7px;letter-spacing:-0.50px">PATIENT</span><span style="left:274.0px;letter-spacing:0.00px;font-kerning:none">000000000</span><span style="left:423.0px;letter-spacing:0.00px;font-kerning:none">NONE</span><span style="left:587.3px;letter-spacing:-0.55px">CT</span><span style="left:770.0px;letter-spacing:0.08px;font-kerning:none">03/09/2012 22:06:06</span><span style="left:968.2px;letter-spacing:0.00px;font-kerning:none">1182</span></div>
<div class="row" style="top:94.76px"><svg width="26" height="26" viewBox="0 0 26 26"><rect x=".75" y="1.350" width="14.100" height="17.300" rx="2.600" fill="#f4fafd" stroke="#3d8dba" stroke-width="1.300"/><path d="M7.900 3.400V13.200M4.100 4.300H11.700M2.900 7.300H12.900M4.100 10.500H9.500M4.400 10.500V13.400" stroke="#39444d" stroke-width="1.050" fill="none"/><circle cx="15.300" cy="15.900" r="6.200" fill="#fff" stroke="#3d8dba" stroke-width="1.200"/><path d="M11.300 16.400L13.200 18.100L15.700 14.800M14.500 16.900L16.100 18.200L19.300 14.400" stroke="#333d45" stroke-width="1.050" fill="none"/></svg><span style="left:90.7px;letter-spacing:0.02px">Patient 2</span><span style="left:274.0px;letter-spacing:0.00px;font-kerning:none">22222222222</span><span style="left:423.0px;letter-spacing:0.00px;font-kerning:none">22222222222</span><span style="left:587.3px;letter-spacing:-0.55px">CT</span><span style="left:770.0px;letter-spacing:0.08px;font-kerning:none">09/09/2020 08:47:31</span><span style="left:968.2px;letter-spacing:0.00px;font-kerning:none">4816</span></div>
<div class="row s" style="top:129.34px"><svg width="26" height="26" viewBox="0 0 26 26"><rect x=".75" y="1.350" width="14.100" height="17.300" rx="2.600" fill="#f4fafd" stroke="#3d8dba" stroke-width="1.300"/><path d="M7.900 3.400V13.200M4.100 4.300H11.700M2.900 7.300H12.900M4.100 10.500H9.500M4.400 10.500V13.400" stroke="#39444d" stroke-width="1.050" fill="none"/><circle cx="15.300" cy="15.900" r="6.200" fill="#fff" stroke="#3d8dba" stroke-width="1.200"/><path d="M11.300 16.400L13.200 18.100L15.700 14.800M14.500 16.900L16.100 18.200L19.300 14.400" stroke="#333d45" stroke-width="1.050" fill="none"/></svg><span style="left:90.7px;letter-spacing:0.02px">Patient 5</span><span style="left:274.0px;letter-spacing:0.00px;font-kerning:none">33333333333</span><span style="left:423.0px;letter-spacing:0.00px;font-kerning:none">333333</span><span style="left:587.3px;letter-spacing:-0.62px">CT, DX</span><span style="left:770.0px;letter-spacing:0.08px;font-kerning:none">07/10/2019 14:47:54</span><span style="left:968.2px;letter-spacing:0.00px;font-kerning:none">1401</span></div>
<div class="row s" style="top:163.92px"><svg width="26" height="26" viewBox="0 0 26 26"><path d="M8.300 3.900Q8.600 2.200 10.400 2.100Q12.200 2.200 12.500 3.900" stroke="#3d8dba" stroke-width="1" fill="#cfe9f6"/><rect x="2.700" y="3.700" width="15.400" height="18.300" rx="2.600" fill="#e9f5fb" fill-opacity=".55" stroke="#3d8dba" stroke-width="1.200"/><path d="M6.100 11.500L8.900 14.100L14.700 7.700" stroke="#3a4046" stroke-width="1.600" fill="none"/><path d="M4.900 17.200H15M4.900 19.200H15" stroke="#5c7f95" stroke-width=".9"/></svg><span style="left:90.7px;letter-spacing:-0.50px">PATIENT I</span><span style="left:274.0px;letter-spacing:0.00px;font-kerning:none">045678</span><span style="left:423.0px;letter-spacing:0.00px;font-kerning:none">045678</span><span style="left:587.3px;letter-spacing:-0.62px">MR, PDF, JPG, MP4</span><span style="left:770.0px;letter-spacing:0.08px;font-kerning:none">11/01/2010 19:20:31</span><span style="left:968.2px;letter-spacing:0.00px;font-kerning:none">245</span></div>
<div class="row" style="top:198.50px"><svg width="26" height="26" viewBox="0 0 26 26"><path d="M2.800 1.900H12.100L16.100 6V19.900A1.500 1.500 0 0 1 14.600 21.400H2.800A1.500 1.500 0 0 1 1.300 19.900V3.400A1.500 1.500 0 0 1 2.800 1.900Z" fill="#f6fbfd" stroke="#5aa3c6" stroke-width="1"/><path d="M12.100 1.900V6H16.100Z" fill="#4a9cc2"/><path d="M4 7.100H13.500M4 8.800H13.500" stroke="#8a949b" stroke-width="1" fill="none"/><circle cx="14.600" cy="16" r="5.900" fill="#fff" stroke="#4a9cc2" stroke-width="1"/><path d="M10.800 16.600L12.700 18.300L15 15.100M13.800 17L15.400 18.300L18.400 14.600" stroke="#3f8fb8" stroke-width="1.100" fill="none"/></svg><span style="left:90.7px;letter-spacing:-0.50px">PATIENT I</span><span style="left:274.0px;letter-spacing:0.00px;font-kerning:none">0456782</span><span style="left:423.0px;letter-spacing:0.00px;font-kerning:none">0456782</span><span style="left:587.3px;letter-spacing:-0.62px">CR, RPT</span><span style="left:770.0px;letter-spacing:0.08px;font-kerning:none">08/23/2017 15:47:30</span><span style="left:968.2px;letter-spacing:0.00px;font-kerning:none">2</span></div>
<div class="row" style="top:233.08px"><svg width="26" height="26" viewBox="0 0 26 26"><rect x=".75" y="1.350" width="14.100" height="17.300" rx="2.600" fill="#f4fafd" stroke="#3d8dba" stroke-width="1.300"/><path d="M7.900 3.400V13.200M4.100 4.300H11.700M2.900 7.300H12.900M4.100 10.500H9.500M4.400 10.500V13.400" stroke="#39444d" stroke-width="1.050" fill="none"/><circle cx="15.300" cy="15.900" r="6.200" fill="#fff" stroke="#3d8dba" stroke-width="1.200"/><path d="M11.300 16.400L13.200 18.100L15.700 14.800M14.500 16.900L16.100 18.200L19.300 14.400" stroke="#333d45" stroke-width="1.050" fill="none"/></svg><span style="left:90.7px;letter-spacing:-0.50px">PATIENT I</span><span style="left:274.0px;letter-spacing:0.00px;font-kerning:none">045678</span><span style="left:423.0px;letter-spacing:0.00px;font-kerning:none">045678</span><span style="left:587.3px;letter-spacing:-0.55px">MR</span><span style="left:770.0px;letter-spacing:0.08px;font-kerning:none">11/01/2010 19:20:31</span><span style="left:968.2px;letter-spacing:0.00px;font-kerning:none">241</span></div>
<div class="row" style="top:267.66px"><svg width="26" height="26" viewBox="0 0 26 26"><rect x=".75" y="1.350" width="14.100" height="17.300" rx="2.600" fill="#f4fafd" stroke="#3d8dba" stroke-width="1.300"/><path d="M7.900 3.400V13.200M4.100 4.300H11.700M2.900 7.300H12.900M4.100 10.500H9.500M4.400 10.500V13.400" stroke="#39444d" stroke-width="1.050" fill="none"/><circle cx="15.300" cy="15.900" r="6.200" fill="#fff" stroke="#3d8dba" stroke-width="1.200"/><path d="M11.300 16.400L13.200 18.100L15.700 14.800M14.500 16.900L16.100 18.200L19.300 14.400" stroke="#333d45" stroke-width="1.050" fill="none"/></svg><span style="left:90.7px;letter-spacing:-0.50px">PATIENT I - ITALY</span><span style="left:274.0px;letter-spacing:0.00px;font-kerning:none">045678</span><span style="left:423.0px;letter-spacing:0.00px;font-kerning:none">045678</span><span style="left:587.3px;letter-spacing:-0.62px">MR, PRT</span><span style="left:770.0px;letter-spacing:0.08px;font-kerning:none">11/01/2010 13:39:22</span><span style="left:968.2px;letter-spacing:0.00px;font-kerning:none">242</span></div>
<div class="row" style="top:302.24px"><svg width="26" height="26" viewBox="0 0 26 26"><rect x=".75" y="1.350" width="14.100" height="17.300" rx="2.600" fill="#f4fafd" stroke="#3d8dba" stroke-width="1.300"/><path d="M7.900 3.400V13.200M4.100 4.300H11.700M2.900 7.300H12.900M4.100 10.500H9.500M4.400 10.500V13.400" stroke="#39444d" stroke-width="1.050" fill="none"/><circle cx="15.300" cy="15.900" r="6.200" fill="#fff" stroke="#3d8dba" stroke-width="1.200"/><path d="M11.300 16.400L13.200 18.100L15.700 14.800M14.500 16.900L16.100 18.200L19.300 14.400" stroke="#333d45" stroke-width="1.050" fill="none"/></svg><span style="left:90.7px;letter-spacing:-0.50px">PATIENT I - ITALY 2</span><span style="left:274.0px;letter-spacing:0.00px;font-kerning:none">345435</span><span style="left:423.0px;letter-spacing:0.00px;font-kerning:none">345435</span><span style="left:587.3px;letter-spacing:-0.55px">CR</span><span style="left:770.0px;letter-spacing:0.08px;font-kerning:none">01/01/2000 09:27:36</span><span style="left:968.2px;letter-spacing:0.00px;font-kerning:none">1</span></div>
<div class="row" style="top:336.82px"><svg width="26" height="26" viewBox="0 0 26 26"><rect x=".75" y="1.350" width="14.100" height="17.300" rx="2.600" fill="#f4fafd" stroke="#3d8dba" stroke-width="1.300"/><path d="M7.900 3.400V13.200M4.100 4.300H11.700M2.900 7.300H12.900M4.100 10.500H9.500M4.400 10.500V13.400" stroke="#39444d" stroke-width="1.050" fill="none"/><circle cx="15.300" cy="15.900" r="6.200" fill="#fff" stroke="#3d8dba" stroke-width="1.200"/><path d="M11.300 16.400L13.200 18.100L15.700 14.800M14.500 16.900L16.100 18.200L19.300 14.400" stroke="#333d45" stroke-width="1.050" fill="none"/></svg><span style="left:90.7px;letter-spacing:-0.50px">PATIENT I XYZ</span><span style="left:274.0px;letter-spacing:0.00px;font-kerning:none">045678</span><span style="left:423.0px;letter-spacing:0.00px;font-kerning:none">045678</span><span style="left:587.3px;letter-spacing:-0.62px">MR, PDF</span><span style="left:770.0px;letter-spacing:0.08px;font-kerning:none">11/01/2010 19:20:31</span><span style="left:968.2px;letter-spacing:0.00px;font-kerning:none">242</span></div>
<div class="row" style="top:371.40px"><svg width="26" height="26" viewBox="0 0 26 26"><rect x=".75" y="1.350" width="14.100" height="17.300" rx="2.600" fill="#f4fafd" stroke="#3d8dba" stroke-width="1.300"/><path d="M7.900 3.400V13.200M4.100 4.300H11.700M2.900 7.300H12.900M4.100 10.500H9.500M4.400 10.500V13.400" stroke="#39444d" stroke-width="1.050" fill="none"/><circle cx="15.300" cy="15.900" r="6.200" fill="#fff" stroke="#3d8dba" stroke-width="1.200"/><path d="M11.300 16.400L13.200 18.100L15.700 14.800M14.500 16.900L16.100 18.200L19.300 14.400" stroke="#333d45" stroke-width="1.050" fill="none"/></svg><span style="left:90.7px;letter-spacing:-0.50px">PATIENT II</span><span style="left:274.0px;letter-spacing:0.00px;font-kerning:none">056789</span><span style="left:423.0px;letter-spacing:0.00px;font-kerning:none">056789</span><span style="left:587.3px;letter-spacing:-0.62px">CR, JPEG</span><span style="left:770.0px;letter-spacing:0.08px;font-kerning:none">10/04/2016 08:51:05</span><span style="left:968.2px;letter-spacing:0.00px;font-kerning:none">1</span></div>
<div class="row" style="top:405.98px"><svg width="26" height="26" viewBox="0 0 26 26"><rect x=".75" y="1.350" width="14.100" height="17.300" rx="2.600" fill="#f4fafd" stroke="#3d8dba" stroke-width="1.300"/><path d="M7.900 3.400V13.200M4.100 4.300H11.700M2.900 7.300H12.900M4.100 10.500H9.500M4.400 10.500V13.400" stroke="#39444d" stroke-width="1.050" fill="none"/><circle cx="15.300" cy="15.900" r="6.200" fill="#fff" stroke="#3d8dba" stroke-width="1.200"/><path d="M11.300 16.400L13.200 18.100L15.700 14.800M14.500 16.900L16.100 18.200L19.300 14.400" stroke="#333d45" stroke-width="1.050" fill="none"/></svg><span style="left:90.7px;letter-spacing:-0.50px">PATIENT III</span><span style="left:274.0px;letter-spacing:0.00px;font-kerning:none">067891</span><span style="left:423.0px;letter-spacing:0.00px;font-kerning:none">067891</span><span style="left:587.3px;letter-spacing:-0.62px">PT, CT</span><span style="left:770.0px;letter-spacing:0.08px;font-kerning:none">08/23/2017 11:18:13</span><span style="left:968.2px;letter-spacing:0.00px;font-kerning:none">468</span></div>
<div class="row" style="top:440.56px"><svg width="26" height="26" viewBox="0 0 26 26"><path d="M8.300 3.900Q8.600 2.200 10.400 2.100Q12.200 2.200 12.500 3.900" stroke="#3d8dba" stroke-width="1" fill="#cfe9f6"/><rect x="2.700" y="3.700" width="15.400" height="18.300" rx="2.600" fill="#e9f5fb" fill-opacity=".55" stroke="#3d8dba" stroke-width="1.200"/><path d="M6.100 11.500L8.900 14.100L14.700 7.700" stroke="#3a4046" stroke-width="1.600" fill="none"/><path d="M4.900 17.200H15M4.900 19.200H15" stroke="#5c7f95" stroke-width=".9"/></svg><span style="left:90.7px;letter-spacing:0.02px">Patient MR1</span><span style="left:274.0px;letter-spacing:0.00px;font-kerning:none">11111111111</span><span style="left:423.0px;letter-spacing:0.00px;font-kerning:none">11111111111</span><span style="left:587.3px;letter-spacing:-0.55px">MR</span><span style="left:770.0px;letter-spacing:0.08px;font-kerning:none">03/11/2021 00:56:25</span><span style="left:968.2px;letter-spacing:0.00px;font-kerning:none">518</span></div>
<div class="row" style="top:475.14px"><svg width="26" height="26" viewBox="0 0 26 26"><rect x=".75" y="1.350" width="14.100" height="17.300" rx="2.600" fill="#f4fafd" stroke="#3d8dba" stroke-width="1.300"/><path d="M7.900 3.400V13.200M4.100 4.300H11.700M2.900 7.300H12.900M4.100 10.500H9.500M4.400 10.500V13.400" stroke="#39444d" stroke-width="1.050" fill="none"/><circle cx="15.300" cy="15.900" r="6.200" fill="#fff" stroke="#3d8dba" stroke-width="1.200"/><path d="M11.300 16.400L13.200 18.100L15.700 14.800M14.500 16.900L16.100 18.200L19.300 14.400" stroke="#333d45" stroke-width="1.050" fill="none"/></svg><span style="left:90.7px;letter-spacing:-0.50px">PATIENT TEST 800</span><span style="left:274.0px;letter-spacing:0.00px;font-kerning:none">800800</span><span style="left:423.0px;letter-spacing:0.00px;font-kerning:none">54367811</span><span style="left:587.3px;letter-spacing:-0.55px">XA</span><span style="left:770.0px;letter-spacing:0.08px;font-kerning:none">05/27/2020 23:20:03</span><span style="left:968.2px;letter-spacing:0.00px;font-kerning:none">50</span></div>
<div class="row" style="top:509.72px"><svg width="26" height="26" viewBox="0 0 26 26"><path d="M2.800 1.900H12.100L16.100 6V19.900A1.500 1.500 0 0 1 14.600 21.400H2.800A1.500 1.500 0 0 1 1.300 19.900V3.400A1.500 1.500 0 0 1 2.800 1.900Z" fill="#f6fbfd" stroke="#5aa3c6" stroke-width="1"/><path d="M12.100 1.900V6H16.100Z" fill="#4a9cc2"/><path d="M4 7.100H13.500M4 8.800H13.500" stroke="#8a949b" stroke-width="1" fill="none"/><circle cx="14.600" cy="16" r="5.900" fill="#fff" stroke="#4a9cc2" stroke-width="1"/><path d="M10.800 16.600L12.700 18.300L15 15.100M13.800 17L15.400 18.300L18.400 14.600" stroke="#3f8fb8" stroke-width="1.100" fill="none"/></svg><span style="left:90.7px;letter-spacing:-0.50px">PATIENT US</span><span style="left:274.0px;letter-spacing:0.00px;font-kerning:none">111333</span><span style="left:423.0px;letter-spacing:0.00px;font-kerning:none">6675234523</span><span style="left:587.3px;letter-spacing:-0.62px">US, RPT</span><span style="left:770.0px;letter-spacing:0.08px;font-kerning:none">05/04/2021 08:17:06</span><span style="left:968.2px;letter-spacing:0.00px;font-kerning:none">12</span></div>
<div class="row" style="top:544.30px"><svg width="26" height="26" viewBox="0 0 26 26"><rect x=".75" y="1.350" width="14.100" height="17.300" rx="2.600" fill="#f4fafd" stroke="#3d8dba" stroke-width="1.300"/><path d="M7.900 3.400V13.200M4.100 4.300H11.700M2.900 7.300H12.900M4.100 10.500H9.500M4.400 10.500V13.400" stroke="#39444d" stroke-width="1.050" fill="none"/><circle cx="15.300" cy="15.900" r="6.200" fill="#fff" stroke="#3d8dba" stroke-width="1.200"/><path d="M11.300 16.400L13.200 18.100L15.700 14.800M14.500 16.900L16.100 18.200L19.300 14.400" stroke="#333d45" stroke-width="1.050" fill="none"/></svg><span style="left:90.7px;letter-spacing:-0.50px">PATIENT XA - ITALY</span><span style="left:274.0px;letter-spacing:0.00px;font-kerning:none">800800</span><span style="left:423.0px;letter-spacing:0.00px;font-kerning:none">4634645</span><span style="left:587.3px;letter-spacing:-0.55px">XA</span><span style="left:770.0px;letter-spacing:0.08px;font-kerning:none">01/01/2020 23:20:03</span><span style="left:968.2px;letter-spacing:0.00px;font-kerning:none">1</span></div>
<div class="row" style="top:578.88px"><svg width="26" height="26" viewBox="0 0 26 26"><rect x=".75" y="1.350" width="14.100" height="17.300" rx="2.600" fill="#f4fafd" stroke="#3d8dba" stroke-width="1.300"/><path d="M7.900 3.400V13.200M4.100 4.300H11.700M2.900 7.300H12.900M4.100 10.500H9.500M4.400 10.500V13.400" stroke="#39444d" stroke-width="1.050" fill="none"/><circle cx="15.300" cy="15.900" r="6.200" fill="#fff" stroke="#3d8dba" stroke-width="1.200"/><path d="M11.300 16.400L13.200 18.100L15.700 14.800M14.500 16.900L16.100 18.200L19.300 14.400" stroke="#333d45" stroke-width="1.050" fill="none"/></svg><span style="left:90.7px;letter-spacing:-0.50px">TEST PATIENT</span><span style="left:274.0px;letter-spacing:0.00px;font-kerning:none">200200</span><span style="left:423.0px;letter-spacing:0.00px;font-kerning:none">120867292</span><span style="left:587.3px;letter-spacing:-0.55px">MR</span><span style="left:770.0px;letter-spacing:0.08px;font-kerning:none">10/08/2015 10:13:40</span><span style="left:968.2px;letter-spacing:0.00px;font-kerning:none">31</span></div>
<div class="row" style="top:613.46px"><svg width="26" height="26" viewBox="0 0 26 26"><rect x=".75" y="1.350" width="14.100" height="17.300" rx="2.600" fill="#f4fafd" stroke="#3d8dba" stroke-width="1.300"/><path d="M7.900 3.400V13.200M4.100 4.300H11.700M2.900 7.300H12.900M4.100 10.500H9.500M4.400 10.500V13.400" stroke="#39444d" stroke-width="1.050" fill="none"/><circle cx="15.300" cy="15.900" r="6.200" fill="#fff" stroke="#3d8dba" stroke-width="1.200"/><path d="M11.300 16.400L13.200 18.100L15.700 14.800M14.500 16.900L16.100 18.200L19.300 14.400" stroke="#333d45" stroke-width="1.050" fill="none"/></svg><span style="left:90.7px;letter-spacing:-0.50px">TEST PATIENT</span><span style="left:274.0px;letter-spacing:0.00px;font-kerning:none">200200</span><span style="left:423.0px;letter-spacing:0.00px;font-kerning:none">120867292</span><span style="left:587.3px;letter-spacing:-0.55px">MR</span><span style="left:770.0px;letter-spacing:0.08px;font-kerning:none">10/08/2015 10:13:40</span><span style="left:968.2px;letter-spacing:0.00px;font-kerning:none">31</span></div>
<div class="row" style="top:648.04px"><svg width="26" height="26" viewBox="0 0 26 26"><rect x=".75" y="1.350" width="14.100" height="17.300" rx="2.600" fill="#f4fafd" stroke="#3d8dba" stroke-width="1.300"/><path d="M7.900 3.400V13.200M4.100 4.300H11.700M2.900 7.300H12.900M4.100 10.500H9.500M4.400 10.500V13.400" stroke="#39444d" stroke-width="1.050" fill="none"/><circle cx="15.300" cy="15.900" r="6.200" fill="#fff" stroke="#3d8dba" stroke-width="1.200"/><path d="M11.300 16.400L13.200 18.100L15.700 14.800M14.500 16.900L16.100 18.200L19.300 14.400" stroke="#333d45" stroke-width="1.050" fill="none"/></svg><span style="left:90.7px;letter-spacing:-0.50px">TEST PATIENT 100</span><span style="left:274.0px;letter-spacing:0.00px;font-kerning:none">100100</span><span style="left:423.0px;letter-spacing:0.00px;font-kerning:none">09090909</span><span style="left:587.3px;letter-spacing:-0.55px">MR</span><span style="left:770.0px;letter-spacing:0.08px;font-kerning:none">07/03/2020 21:49:21</span><span style="left:968.2px;letter-spacing:0.00px;font-kerning:none">263</span></div>
<div class="row" style="top:682.62px"><svg width="26" height="26" viewBox="0 0 26 26"><rect x=".75" y="1.350" width="14.100" height="17.300" rx="2.600" fill="#f4fafd" stroke="#3d8dba" stroke-width="1.300"/><path d="M7.900 3.400V13.200M4.100 4.300H11.700M2.900 7.300H12.900M4.100 10.500H9.500M4.400 10.500V13.400" stroke="#39444d" stroke-width="1.050" fill="none"/><circle cx="15.300" cy="15.900" r="6.200" fill="#fff" stroke="#3d8dba" stroke-width="1.200"/><path d="M11.300 16.400L13.200 18.100L15.700 14.800M14.500 16.900L16.100 18.200L19.300 14.400" stroke="#333d45" stroke-width="1.050" fill="none"/></svg><span style="left:90.7px;letter-spacing:-0.50px">TEST XA</span><span style="left:274.0px;letter-spacing:0.00px;font-kerning:none">400400</span><span style="left:423.0px;letter-spacing:0.00px;font-kerning:none">NONE</span><span style="left:587.3px;letter-spacing:-0.55px">XA</span><span style="left:770.0px;letter-spacing:0.08px;font-kerning:none">05/23/2021 12:08:46</span><span style="left:968.2px;letter-spacing:0.00px;font-kerning:none">25</span></div>
</div>
<div class="scrolltrack"></div><div class="scroll"></div>
<div class="foot">
<div class="abs" style="left:10.500px;top:5px;font-size:12px;line-height:12.300px;color:#0e5e88;white-space:nowrap">Record<br>28 (1 - 28)</div>
<svg class="abs" style="left:435.0px;top:12.200px" width="11.6" height="12" viewBox="0 0 11.6 12"><path d="M5.2 1L1.0 5.800L5.2 10.600M10.6 1L6.4 5.800L10.6 10.600" stroke="#0e5e88" stroke-width="1.700" fill="none"/></svg>
<div class="abs" style="left:451px;top:10px;font-size:13.500px;color:#0e5e88;white-space:nowrap">Previous</div>
<svg class="abs" style="left:508.5px;top:12.200px" width="6.2" height="12" viewBox="0 0 6.2 12"><path d="M5.2 1L1.0 5.800L5.2 10.600" stroke="#0e5e88" stroke-width="1.700" fill="none"/></svg>
<div class="abs" style="left:522.500px;top:8px;font-size:16px;color:#0b4468;white-space:nowrap">1 / 1</div>
<svg class="abs" style="left:559.5px;top:12.200px" width="6.2" height="12" viewBox="0 0 6.2 12"><path d="M1.0 1L5.2 5.800L1.0 10.600" stroke="#0e5e88" stroke-width="1.700" fill="none"/></svg>
<div class="abs" style="left:574.500px;top:10px;font-size:13.500px;color:#0e5e88;white-space:nowrap">Next</div>
<svg class="abs" style="left:607.5px;top:12.200px" width="11.6" height="12" viewBox="0 0 11.6 12"><path d="M1.0 1L5.2 5.800L1.0 10.600M6.4 1L10.6 5.800L6.4 10.600" stroke="#0e5e88" stroke-width="1.700" fill="none"/></svg>
<div class="abs" style="left:866px;top:5.500px;width:138px;height:24px;border:1px solid #9fd6f2;border-radius:5px;background:#fff;text-align:center;padding-right:4px;font-size:14.500px;line-height:22px;color:#0b4468">Filter</div>
<svg class="abs" style="left:1019px;top:8px" width="20" height="20" viewBox="0 0 20 20"><rect x="8" y="2" width="11.500" height="16" fill="#fff" stroke="#3f9a4b" stroke-width="1"/><path d="M8 6H19.500M8 10H19.500M8 14H19.500M12 2V18M16 2V18" stroke="#3f9a4b" stroke-width="1.200"/><path d="M0 2.500L11 .5V19.500L0 17.500Z" fill="#3f9a4b"/><text x="2.600" y="13.300" font-family="Liberation Sans, sans-serif" font-size="8.500" font-weight="bold" fill="#fff">X</text></svg>
</div>
<div class="menu">
<div class="mi" style="top:0.0px"><svg class="ic" width="20" height="20" viewBox="0 0 20 20"><ellipse cx="6.800" cy="7" rx="2.900" ry="3.300" fill="#0d5b82"/><path d="M1.200 15.500V14C1.200 11.800 3.500 10.900 5 10.700Q6.800 11.800 8.600 10.700C10.100 10.900 12.400 11.800 12.400 14V15.500Z" fill="#0d5b82"/><path d="M12.500 9.500H17M15.300 7.600L17.300 9.500L15.300 11.400" stroke="#0d5b82" stroke-width="1.300" fill="none"/></svg><span>Assign</span><svg class="ar" width="8" height="12" viewBox="0 0 8 12"><path d="M1.5 1L6.5 6L1.5 11" stroke="#0d5b82" stroke-width="2" fill="none"/></svg></div>
<div class="mi" style="top:26.9px"><svg class="ic" width="20" height="20" viewBox="0 0 20 20"><rect x="1.300" y="2.100" width="15.800" height="15.600" rx="2.600" fill="#0d5b82"/><path d="M9.200 5.700V14.100M5 9.900H13.400" stroke="#fff" stroke-width="2.500"/></svg><span>Add</span><svg class="ar" width="8" height="12" viewBox="0 0 8 12"><path d="M1.5 1L6.5 6L1.5 11" stroke="#0d5b82" stroke-width="2" fill="none"/></svg></div>
<div class="mi" style="top:53.8px"><svg class="ic" width="20" height="20" viewBox="0 0 20 20"><path d="M2.500 14L12.800 3.200A1.800 1.800 0 0 1 15.400 3.200L16.300 4.100A1.800 1.800 0 0 1 16.300 6.700L5.800 17.200L1.500 18.200Z" stroke="#0d5b82" stroke-width="1.200" fill="none" stroke-linejoin="round"/><path d="M11.500 4.700L14.800 8M4 13.500L13 4.800M5.800 15.300L14.500 6.500M2.500 14L5.800 17.200" stroke="#0d5b82" stroke-width="1" fill="none"/></svg><span>Edit</span><svg class="ar" width="8" height="12" viewBox="0 0 8 12"><path d="M1.5 1L6.5 6L1.5 11" stroke="#0d5b82" stroke-width="2" fill="none"/></svg></div>
<div class="mi" style="top:80.7px"><svg class="ic" width="20" height="20" viewBox="0 0 20 20"><circle cx="9.400" cy="9.800" r="8.100" stroke="#0d5b82" stroke-width="1.400" fill="none"/><path d="M5.700 6.800H13.100M5.700 9.800H13.100M5.700 12.800H13.100" stroke="#0d5b82" stroke-width="1.700"/></svg><span>Set Flag</span><svg class="ar" width="8" height="12" viewBox="0 0 8 12"><path d="M1.5 1L6.5 6L1.5 11" stroke="#0d5b82" stroke-width="2" fill="none"/></svg></div>
<div class="mi" style="top:107.6px"><svg class="ic" style="left:6.600px" width="20" height="20" viewBox="0 0 20 20"><path d="M1.500 8V17.500H11" stroke="#0d5b82" stroke-width="1.300" fill="none" stroke-dasharray="1.600 1.300"/><path d="M1.500 8V5.500H4M11 17.500H13.500V15" stroke="#0d5b82" stroke-width="1.300" fill="none" stroke-dasharray="1.600 1.300"/><rect x="5.300" y="2.300" width="11.500" height="11.500" rx="1.800" stroke="#0d5b82" stroke-width="1.400" fill="#fff"/><path d="M8 11.200L13.300 5.800" stroke="#0d5b82" stroke-width="1.800"/><path d="M9.800 5.200H14V9.400Z" fill="#0d5b82"/></svg><span>Send to Contact</span><svg class="ar" width="8" height="12" viewBox="0 0 8 12"><path d="M1.5 1L6.5 6L1.5 11" stroke="#0d5b82" stroke-width="2" fill="none"/></svg></div>
<div class="mi" style="top:134.5px"><svg class="ic" style="left:6.600px" width="20" height="20" viewBox="0 0 20 20"><path d="M13.500 4.500L4.500 10L13.500 15.500" stroke="#0d5b82" stroke-width="1.500" fill="none"/><circle cx="13.800" cy="4.300" r="2.600" fill="#0d5b82"/><circle cx="4.300" cy="10" r="2.600" fill="#0d5b82"/><circle cx="13.800" cy="15.700" r="2.600" fill="#0d5b82"/></svg><span>Share Patient Order</span></div>
<div class="mi" style="top:161.4px"><svg class="ic" style="left:6.600px" width="20" height="20" viewBox="0 0 20 20"><path d="M9 1.500V12.500M4.500 8.300L9 12.800L13.500 8.300" stroke="#0d5b82" stroke-width="1.800" fill="none"/><path d="M2.300 17H15.700" stroke="#0d5b82" stroke-width="1.800"/></svg><span style="letter-spacing:0">Download Patient Order</span></div>
<div class="mi" style="top:188.3px;border-bottom:none"><svg class="ic" style="left:6.600px" width="20" height="20" viewBox="0 0 20 20"><path d="M6.800 2.800V1.500H11.200V2.800" stroke="#0d5b82" stroke-width="1.200" fill="none"/><rect x="2.300" y="2.800" width="13.400" height="2.400" fill="#0d5b82"/><path d="M3.300 6.300H14.700V17.300A1.200 1.200 0 0 1 13.500 18.500H4.500A1.200 1.200 0 0 1 3.300 17.300Z" fill="#0d5b82"/><path d="M6.300 8V16.800M9 8V16.800M11.700 8V16.800" stroke="#fff" stroke-width="1.100"/></svg><span style="letter-spacing:-.26px">Move to Recycle Bin</span></div>
</div>
<svg class="abs" style="left:640px;top:430px;z-index:11" width="140" height="40" viewBox="0 0 140 40">
<path d="M6.800 19.600L28.600 9.800Q25.600 14.800 25 17.400L108 19.700V21L25 23.800Q25.700 27 28.800 30.600Z" fill="#f0353f" stroke="#f0353f" stroke-width=".8" stroke-linejoin="round"/>
<circle cx="116" cy="20.200" r="10" fill="#f0353f"/>
<text x="116" y="25" text-anchor="middle" font-family="Liberation Sans, sans-serif" font-weight="bold" font-size="13" fill="#fff">1</text></svg>
<div class="radial"><div class="disc"></div>
<svg class="abs" style="left:0;top:0" width="120" height="120" viewBox="0 0 120 120">
 <g stroke="#e6e9eb" stroke-width="1"><path d="M60.500 60.500L31.500 10.300"/><path d="M60.500 60.500L89.500 10.300"/><path d="M60.500 60.500L31.500 110.700"/><path d="M60.500 60.500L89.500 110.700"/></g>
</svg>
<div class="c"></div>
<svg class="abs" style="left:0;top:0" width="120" height="120" viewBox="0 0 120 120">
 <!-- center: user plus -->
 <g fill="#2a8fb5" transform="translate(60.800 60.700) scale(1.040) translate(-60.150 -59.850)"><ellipse cx="58.500" cy="55.500" rx="4.600" ry="5.300"/><path d="M49.500 69.500V67.500C49.500 64 53 62.800 55.500 62.400Q58.500 64.300 61.500 62.400C64 62.800 67.500 64 67.500 67.500V69.500Z"/><path d="M67.800 53.500V59.500M64.800 56.500H70.800" stroke="#2a8fb5" stroke-width="1.400"/></g>
 <!-- top: assign user arrow -->
 <g fill="#0d5b82" transform="translate(61.500 20.500) scale(.94) translate(-59.500 -21)"><ellipse cx="56.500" cy="15.500" rx="3.700" ry="4.200"/><path d="M49.500 26.500V25C49.500 22.300 52.300 21.400 54.300 21.100Q56.500 22.500 58.700 21.100C60.700 21.400 63.500 22.300 63.500 25V26.500Z"/><path d="M63 18.500H69M66.700 16L69.300 18.500L66.700 21" stroke="#0d5b82" stroke-width="1.500" fill="none"/></g>
 <!-- top-right: group refresh -->
 <g fill="#0d5b82" transform="translate(2.800 .5)"><circle cx="89.500" cy="32.500" r="3.300"/><circle cx="96.800" cy="33" r="3.600"/><path d="M83.500 42.500V40.800C83.500 38.500 86.500 37.600 89 37.300L91.500 42.500Z"/><path d="M90 43.500V41.500C90 39 93 38 95 37.700Q96.800 38.800 98.600 37.700C100.600 38 103.600 39 103.600 41.500V43.500Z"/><path d="M86 44.500Q86 48.500 92 48.500H97M94.800 46L97.500 48.500L94.800 51" stroke="#0d5b82" stroke-width="1.600" fill="none"/></g>
 <!-- right-bottom: share -->
 <g transform="translate(96.600 82.300) scale(.94) translate(-96.600 -83)"><path d="M102 77L91.500 83L102 89" stroke="#0d5b82" stroke-width="1.800" fill="none"/><circle cx="102.300" cy="76.500" r="3.200" fill="#0d5b82"/><circle cx="91" cy="83" r="3.200" fill="#0d5b82"/><circle cx="102.300" cy="89.500" r="3.200" fill="#0d5b82"/></g>
 <!-- bottom: trash -->
 <g fill="#0d5b82"><path d="M56.300 95V93.500H61.700V95" stroke="#0d5b82" stroke-width="1.200" fill="none"/><rect x="51.800" y="95" width="14.400" height="2.400"/><path d="M53 98.600H65V110.300A1.200 1.200 0 0 1 63.800 111.500H54.200A1.200 1.200 0 0 1 53 110.300Z"/><path d="M56.200 100.500V109.800M59 100.500V109.800M61.800 100.500V109.800" stroke="#fff" stroke-width="1.100"/></g>
 <!-- left-bottom: group plus -->
 <g fill="#0d5b82" transform="translate(-1 .3)"><circle cx="19.500" cy="76.300" r="2.600"/><circle cx="25" cy="76.300" r="3"/><path d="M14 84.500V83C14 81 16.500 80.300 18.500 80L20.500 84.500Z"/><path d="M19.500 85.500V83.500C19.500 81.300 22 80.500 23.700 80.200Q25 81 26.300 80.200C28 80.500 30.500 81.300 30.500 83.500V85.500Z"/><path d="M31.800 76.500V82.500M28.800 79.500H34.800" stroke="#0d5b82" stroke-width="1.400"/></g>
 <!-- left-top: folder plus -->
 <g fill="#0d5b82"><path d="M15.500 31.500A1 1 0 0 1 16.500 30.500H21.500L23.500 32.700H33A1 1 0 0 1 34 33.700V44A1 1 0 0 1 33 45H16.500A1 1 0 0 1 15.500 44Z"/><path d="M24.800 35.500V42.500M21.300 39H28.300" stroke="#fff" stroke-width="1.700"/></g>
</svg></div>
</div></body></html>
